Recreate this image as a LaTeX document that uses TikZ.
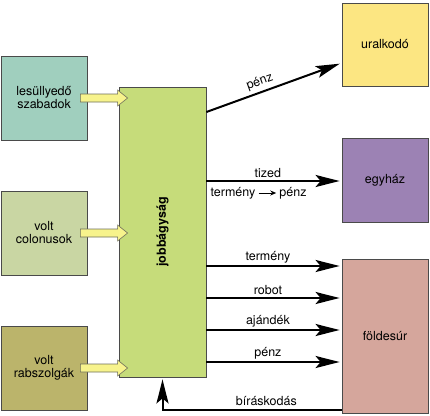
\documentclass[tikz,border=0pt]{standalone}
\usepackage{fontspec}
\setmainfont{TeX Gyre Heros}
\usetikzlibrary{arrows.meta,calc}
\definecolor{cteal}{HTML}{A0CFBE}
\definecolor{ccol}{HTML}{C9D6A3}
\definecolor{crab}{HTML}{BBB46B}
\definecolor{cjob}{HTML}{C6DC7A}
\definecolor{cur}{HTML}{FCE682}
\definecolor{ceg}{HTML}{9C82B4}
\definecolor{cfo}{HTML}{D5A69C}
\definecolor{cyel}{HTML}{F7F38C}
\definecolor{boxline}{HTML}{4A4A4A}
\definecolor{yline}{HTML}{6E6E5A}
\newcommand{\lbl}{\fontsize{12.5}{13}\selectfont}
\begin{document}
\begin{tikzpicture}[x=1pt,y=-1pt,
  box/.style={draw=boxline, line width=0.8pt, inner sep=0pt, align=center, font=\lbl},
  conn/.style={line width=2pt, shorten >=2pt, -{Stealth[length=24pt,width=12pt,inset=5pt]}},
  lab/.style={font=\lbl, inner sep=1pt},
  yarr/.style={fill=cyel, draw=yline, line width=0.6pt, line join=miter}]
\useasboundingbox (0,0) rectangle (430,415);
% left boxes
\node[box, fill=cteal, minimum width=86pt, minimum height=84pt] (ls) at (44,98) {lesüllyedő\\szabadok};
\node[box, fill=ccol, minimum width=86pt, minimum height=84pt] (vc) at (44,233) {volt\\colonusok};
\node[box, fill=crab, minimum width=86pt, minimum height=84pt] (vr) at (44,368) {volt\\rabszolgák};
% central box
\node[box, fill=cjob, minimum width=87pt, minimum height=290pt] (jb) at (162.5,232) {};
\node[font=\bfseries\lbl, rotate=90] (jbt) at (jb.center) {jobbágyság};
% right boxes
\node[box, fill=cur, minimum width=86pt, minimum height=83pt] (ur) at (385,44.5) {uralkodó};
\node[box, fill=ceg, minimum width=86pt, minimum height=84pt] (eg) at (385,180) {egyház};
\node[box, fill=cfo, minimum width=86pt, minimum height=154pt] (fo) at (385,336) {földesúr};
% yellow arrows
\foreach \s in {ls,vc,vr}{
  \draw[yarr] ($(\s.east)+(-7,-4)$) -- ($(\s.east -| jb.west)+(-1,-4)$)
    -- ($(\s.east -| jb.west)+(-1,-8)$) -- ($(\s.east -| jb.west)+(9,0)$)
    -- ($(\s.east -| jb.west)+(-1,8)$) -- ($(\s.east -| jb.west)+(-1,4)$)
    -- ($(\s.east)+(-7,4)$) -- cycle;
}
% black arrows
\draw[conn] (jb.east |- 0,112) -- (ur.west |- 0,63) node[lab, sloped, above=2pt, pos=0.42] {pénz};
\draw[conn] (jb.east |- 0,181) -- (eg.west |- 0,181) node[lab, pos=0.455, above=1pt] {tized};
\node[lab] (tm) at (233,193) {termény};
\node[lab] (pz) at (293,193) {pénz};
\draw[line width=1pt, shorten <=2pt, shorten >=2pt, -{Stealth[length=6pt,width=5pt]}] (tm) -- (pz);
\draw[conn] (jb.east |- 0,266) -- (fo.west |- 0,266) node[lab, pos=0.455, above=1pt] {termény};
\draw[conn] (jb.east |- 0,298) -- (fo.west |- 0,298) node[lab, pos=0.455, above=1pt] {robot};
\draw[conn] (jb.east |- 0,330) -- (fo.west |- 0,330) node[lab, pos=0.455, above=1pt] {ajándék};
\draw[conn] (jb.east |- 0,362) -- (fo.west |- 0,362) node[lab, pos=0.455, above=1pt] {pénz};
\draw[conn] (fo.west |- 0,410) -| (jb.south) node[lab, pos=0.21, above=2pt] {bíráskodás};
\end{tikzpicture}
\end{document}
